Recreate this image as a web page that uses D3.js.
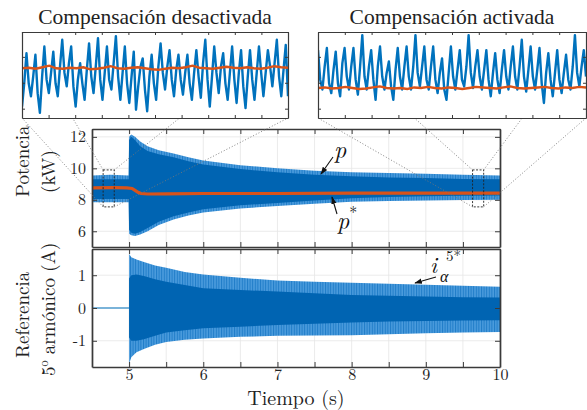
<!DOCTYPE html>
<html>
<head>
<meta charset="utf-8">
<script src="https://cdn.jsdelivr.net/npm/d3@7"></script>
<style>
  body { margin: 0; background: #fff; }
  svg { display: block; }
</style>
</head>
<body>
<script>
// compensacion de 5o armonico: potencia y referencia de corriente

// envolvente de la potencia p (kW)
const tTop     = [4.5, 4.75, 4.995, 5.0, 5.03, 5.08, 5.15, 5.25, 5.4, 5.6, 5.8, 6.0, 6.5, 7.0, 7.5, 8.0, 8.5, 9.0, 9.5, 10.0];
const pLightHi = [9.55, 9.6, 9.55, 12.0, 12.15, 12.0, 11.7, 11.4, 11.15, 10.95, 10.7, 10.5, 10.2, 10.0, 9.85, 9.75, 9.7, 9.65, 9.6, 9.55];
const pDarkHi  = [9.3, 9.3, 9.3, 11.8, 12.0, 11.8, 11.4, 11.1, 10.9, 10.7, 10.45, 10.25, 9.95, 9.75, 9.6, 9.5, 9.42, 9.38, 9.33, 9.3];
const pDarkLo  = [8.05, 8.05, 8.05, 6.1, 5.9, 5.85, 5.95, 6.2, 6.6, 6.95, 7.2, 7.4, 7.65, 7.8, 7.95, 8.1, 8.18, 8.22, 8.26, 8.28];
const pLightLo = [7.85, 7.85, 7.85, 5.85, 5.75, 5.7, 5.8, 6.0, 6.4, 6.75, 7.0, 7.2, 7.45, 7.6, 7.75, 7.88, 7.92, 7.95, 7.98, 8.0];

// potencia de referencia p* (kW)
const tRef = [4.5, 4.8, 4.97, 5.04, 5.08, 5.12, 5.16, 5.25, 5.5, 6, 7, 8, 9, 10];
const pRef = [8.76, 8.77, 8.76, 8.72, 8.6, 8.48, 8.4, 8.37, 8.38, 8.4, 8.4, 8.42, 8.42, 8.42];

// referencia de 5o armonico (A)
const tPre = [4.5, 5.0];
const iPre = [0, 0];
const tBot     = [5.0, 5.03, 5.1, 5.2, 5.35, 5.5, 5.75, 6.0, 6.5, 7.0, 7.5, 8.0, 8.5, 9.0, 9.5, 10.0];
const iLightHi = [1.65, 1.55, 1.48, 1.4, 1.3, 1.23, 1.1, 1.02, 0.92, 0.84, 0.8, 0.77, 0.74, 0.71, 0.68, 0.65];
const iDarkHi  = [0.9, 1.0, 1.02, 0.98, 0.88, 0.8, 0.7, 0.6, 0.55, 0.5, 0.45, 0.4, 0.37, 0.35, 0.33, 0.32];
const iDarkLo  = [-0.9, -1.0, -1.0, -0.95, -0.85, -0.75, -0.68, -0.62, -0.57, -0.52, -0.48, -0.44, -0.41, -0.4, -0.38, -0.37];
const iLightLo = [-1.7, -1.5, -1.35, -1.25, -1.12, -1.04, -0.97, -0.93, -0.88, -0.85, -0.84, -0.83, -0.8, -0.77, -0.75, -0.73];

// ventanas de zoom
const zoomLeftT  = [4.65, 4.80];
const zoomRightT = [9.63, 9.78];
const zoomP      = [7.55, 9.9];
const insetP     = [7.82, 9.48];

// detalle compensacion desactivada
const insetLeftP = [8.04, 8.49, 9.07, 8.49, 8.24, 8.62, 9.04, 8.30, 7.92, 8.62, 9.20, 8.56, 8.30, 8.69, 9.10, 8.49,
  8.24, 8.81, 9.33, 8.69, 8.43, 8.88, 9.20, 8.43, 8.04, 8.56, 8.88, 8.49, 8.17, 8.75, 9.26, 8.62, 8.30, 8.81, 9.36,
  8.56, 8.17, 8.69, 9.20, 8.56, 8.37, 8.88, 9.40, 8.62, 8.17, 8.69, 9.20, 8.49, 8.11, 8.62, 9.10, 7.98, 8.43, 8.81,
  8.97, 8.37, 7.95, 8.62, 9.04, 8.49, 8.17, 8.81, 9.26, 8.69, 8.37, 8.81, 9.13, 8.56, 8.24, 8.75, 9.04, 8.56, 8.27,
  8.69, 9.04, 8.49, 8.17, 8.69, 9.13, 8.62, 8.21, 8.88, 9.33, 8.56, 8.04, 8.62, 9.20, 8.69, 8.30, 8.81, 9.07, 8.49,
  8.17, 8.69, 9.20, 8.56, 8.11, 8.69, 9.13, 8.43, 8.01, 8.62, 9.13, 8.56, 8.17, 8.69, 9.20, 8.69, 8.24, 8.69, 9.13,
  8.81, 8.43, 8.88, 9.33, 8.62, 8.24, 8.75, 9.23, 8.24];
const insetLeftRef = [8.78, 8.79, 8.77, 8.80, 8.83, 8.78, 8.77, 8.79, 8.78, 8.80, 8.76, 8.77, 8.79, 8.82, 8.78, 8.77,
  8.79, 8.80, 8.78, 8.76, 8.75, 8.77, 8.79, 8.78, 8.80, 8.83, 8.79, 8.78, 8.77, 8.79, 8.81, 8.79, 8.78, 8.80, 8.78,
  8.77, 8.79, 8.82, 8.80, 8.79];

// detalle compensacion activada
const insetRightP = [9.13, 8.56, 8.37, 8.81, 9.17, 8.49, 8.30, 8.75, 9.10, 8.49, 8.24, 8.88, 9.17, 8.62, 8.37, 8.81,
  9.17, 8.56, 8.27, 8.81, 9.42, 8.62, 8.37, 8.81, 9.13, 8.56, 8.17, 8.81, 9.20, 8.62, 8.37, 8.69, 8.91, 8.43, 8.17,
  8.75, 9.17, 8.62, 8.37, 8.81, 9.20, 8.62, 8.37, 8.81, 9.42, 8.69, 8.43, 8.81, 9.20, 8.56, 8.37, 8.81, 9.20, 8.56,
  8.30, 8.69, 8.97, 8.37, 8.17, 8.69, 9.20, 8.62, 8.37, 8.75, 9.13, 8.56, 8.43, 8.81, 9.42, 8.69, 8.40, 8.81, 9.13,
  8.62, 8.37, 8.75, 9.13, 8.56, 8.24, 8.69, 9.07, 8.56, 8.30, 8.75, 9.13, 8.62, 8.37, 8.81, 9.20, 8.62, 8.37, 8.81,
  9.33, 8.62, 8.33, 8.75, 9.20, 8.62, 8.37, 8.75, 9.17, 8.49, 8.11, 8.69, 9.07, 8.56, 8.24, 8.69, 9.13, 8.56, 8.30,
  8.69, 9.04, 8.56, 8.37, 8.81, 9.42, 8.69, 8.43, 8.81, 9.13, 8.62];
const insetRightRef = [8.40, 8.41, 8.39, 8.40, 8.42, 8.40, 8.38, 8.39, 8.41, 8.43, 8.40, 8.39, 8.40, 8.38, 8.41, 8.40,
  8.42, 8.40, 8.39, 8.41, 8.40, 8.38, 8.40, 8.42, 8.41, 8.40, 8.39, 8.41, 8.43, 8.40, 8.39, 8.40, 8.41, 8.42, 8.40,
  8.39, 8.41, 8.40, 8.42, 8.41];

const xTicks = [4.5, 5, 5.5, 6, 6.5, 7, 7.5, 8, 8.5, 9, 9.5, 10];
const pTicks = [6, 8, 10, 12];
const iTicks = [-1, 0, 1];

const LM = 'Latin Modern Roman';
const TIMES = 'Liberation Serif';
const blue = '#0064b2';
const blueLight = '#4a9bdc';
const blueLine = '#0072BD';
const red = '#D95319';
const frame = '#3a3a3a';
const grid = '#e6e6e6';
const ink = '#222';

const svgWidth = 587, svgHeight = 410;
const svg = d3.select('body').append('svg')
  .attr('width', svgWidth)
  .attr('height', svgHeight);

// trama vertical para la zona de picos
const defs = svg.append('defs');
const pat = defs.append('pattern').attr('id', 'stripes')
  .attr('patternUnits', 'userSpaceOnUse').attr('width', 2.6).attr('height', 10);
pat.append('rect').attr('width', 2.6).attr('height', 10).attr('fill', blueLight);
pat.append('rect').attr('width', 1).attr('height', 10).attr('fill', '#1f7cc8');

const xScale = d3.scaleLinear().domain([4.5, 10]).range([92, 500]);
const yTop = d3.scaleLinear().domain([5, 12.5]).range([247, 129]);
const yBot = d3.scaleLinear().domain([-1.8, 1.8]).range([367, 249]);

const fmtNum = d => d < 0 ? '-' + Math.abs(d) : String(d);

function drawPanel(yScale, yTickVals, id) {
  const g = svg.append('g');
  const [y0, y1] = yScale.range();

  g.append('clipPath').attr('id', id)
    .append('rect')
    .attr('x', xScale.range()[0]).attr('y', y1)
    .attr('width', xScale.range()[1] - xScale.range()[0]).attr('height', y0 - y1);

  // rejilla
  g.append('g').selectAll('line').data(xTicks).join('line')
    .attr('x1', d => xScale(d)).attr('x2', d => xScale(d))
    .attr('y1', y1).attr('y2', y0)
    .attr('stroke', grid).attr('stroke-width', 0.8);
  g.append('g').selectAll('line').data(yTickVals).join('line')
    .attr('x1', xScale.range()[0]).attr('x2', xScale.range()[1])
    .attr('y1', d => yScale(d)).attr('y2', d => yScale(d))
    .attr('stroke', grid).attr('stroke-width', 0.8);

  const plot = g.append('g').attr('clip-path', `url(#${id})`);
  return { g, plot };
}

function drawAxes(g, yScale, yTickVals, showX) {
  const [y0, y1] = yScale.range();
  const [x0, x1] = xScale.range();
  const style = sel => {
    sel.attr('font-family', LM);
    sel.select('.domain').attr('stroke', frame).attr('stroke-width', 1.7);
    sel.selectAll('.tick line').attr('stroke', frame).attr('stroke-width', 1);
    sel.selectAll('.tick text').attr('fill', ink).attr('font-size', 16).attr('font-family', LM);
  };
  g.append('g').attr('transform', `translate(0,${y0})`)
    .call(d3.axisBottom(xScale).tickValues(xTicks).tickSizeInner(-5).tickSizeOuter(0).tickPadding(2)
      .tickFormat(d => showX && Number.isInteger(d) && d >= 5 ? fmtNum(d) : ''))
    .call(style);
  g.append('g').attr('transform', `translate(0,${y1})`)
    .call(d3.axisTop(xScale).tickValues(xTicks).tickSizeInner(-5).tickSizeOuter(0).tickFormat(''))
    .call(style);
  g.append('g').attr('transform', `translate(${x0},0)`)
    .call(d3.axisLeft(yScale).tickValues(yTickVals).tickSizeInner(-5).tickSizeOuter(0).tickPadding(6).tickFormat(fmtNum))
    .call(style);
  g.append('g').attr('transform', `translate(${x1},0)`)
    .call(d3.axisRight(yScale).tickValues(yTickVals).tickSizeInner(-5).tickSizeOuter(0).tickFormat(''))
    .call(style);
}

// ---- panel superior: potencia
const topPanel = drawPanel(yTop, pTicks, 'clipTop');
const topIdx = d3.range(tTop.length);
topPanel.plot.append('path')
  .datum(topIdx)
  .attr('fill', 'url(#stripes)')
  .attr('d', d3.area().x(i => xScale(tTop[i])).y0(i => yTop(pLightLo[i])).y1(i => yTop(pLightHi[i])));
topPanel.plot.append('path')
  .datum(topIdx)
  .attr('fill', blue)
  .attr('d', d3.area().x(i => xScale(tTop[i])).y0(i => yTop(pDarkLo[i])).y1(i => yTop(pDarkHi[i])));
topPanel.plot.append('path')
  .datum(d3.range(tRef.length))
  .attr('fill', 'none').attr('stroke', red).attr('stroke-width', 3.2)
  .attr('d', d3.line().x(i => xScale(tRef[i])).y(i => yTop(pRef[i])));
drawAxes(topPanel.g, yTop, pTicks, false);

// ---- panel inferior: referencia de corriente
const botPanel = drawPanel(yBot, iTicks, 'clipBot');
botPanel.plot.append('path')
  .datum(d3.range(tPre.length))
  .attr('fill', 'none').attr('stroke', blueLine).attr('stroke-width', 1.2)
  .attr('d', d3.line().x(i => xScale(tPre[i])).y(i => yBot(iPre[i])));
const botIdx = d3.range(tBot.length);
botPanel.plot.append('path')
  .datum(botIdx)
  .attr('fill', 'url(#stripes)')
  .attr('d', d3.area().x(i => xScale(tBot[i])).y0(i => yBot(iLightLo[i])).y1(i => yBot(iLightHi[i])));
botPanel.plot.append('path')
  .datum(botIdx)
  .attr('fill', blue)
  .attr('d', d3.area().x(i => xScale(tBot[i])).y0(i => yBot(iDarkLo[i])).y1(i => yBot(iDarkHi[i])));
drawAxes(botPanel.g, yBot, iTicks, true);

// ---- textos de ejes
svg.append('text')
  .attr('x', 296).attr('y', 405)
  .attr('text-anchor', 'middle').attr('font-size', 20).attr('font-family', LM).attr('fill', ink)
  .text('Tiempo (s)');

function yLabel(x, y, txt) {
  return svg.append('text')
    .attr('transform', `translate(${x},${y}) rotate(-90)`)
    .attr('font-size', 19).attr('font-family', LM).attr('fill', ink)
    .text(txt);
}
yLabel(29, 197, 'Potencia');
yLabel(55, 193, '(kW)');
yLabel(29, 358, 'Referencia');
const lab5 = yLabel(55, 376, '5');
lab5.append('tspan').attr('dy', -7).attr('font-size', 12).text('o');
lab5.append('tspan').attr('dy', 7).text(' armónico (A)');

// ---- anotaciones
defs.append('marker')
  .attr('id', 'arrow').attr('viewBox', '0 0 10 10')
  .attr('refX', 9).attr('refY', 5)
  .attr('markerWidth', 7).attr('markerHeight', 7)
  .attr('orient', 'auto')
  .append('path').attr('d', 'M0,1.5 L10,5 L0,8.5 Z').attr('fill', '#111');

function arrow(x1, y1, x2, y2) {
  svg.append('line')
    .attr('x1', x1).attr('y1', y1).attr('x2', x2).attr('y2', y2)
    .attr('stroke', '#111').attr('stroke-width', 1.1)
    .attr('marker-end', 'url(#arrow)');
}

function note(x, y, size) {
  return svg.append('text').attr('x', x).attr('y', y)
    .attr('font-size', size).attr('font-family', LM).attr('fill', '#111');
}

arrow(333, 157, 321, 174);
note(334, 158, 24).append('tspan').attr('font-style', 'italic').text('p');

arrow(337, 214, 332, 197);
const pStar = note(337, 229, 24);
pStar.append('tspan').attr('font-style', 'italic').text('p');
pStar.append('tspan').attr('dy', -11).attr('font-size', 16).text('*');

arrow(436, 277, 415, 283);
note(430, 273, 23).append('tspan').attr('font-style', 'italic').text('i');
note(440, 282, 16).append('tspan').attr('font-style', 'italic').text('α');
note(446, 261, 15).text('5*');

// ---- recuadros de zoom y lineas de union
const insets = [
  { box: [22, 288, 32, 118], t: zoomLeftT, p: insetLeftP, ref: insetLeftRef, title: 'Compensación desactivada' },
  { box: [318, 586, 32, 118], t: zoomRightT, p: insetRightP, ref: insetRightRef, title: 'Compensación activada' }
];

insets.forEach(ins => {
  const rx0 = xScale(ins.t[0]), rx1 = xScale(ins.t[1]);
  const ry0 = yTop(zoomP[1]), ry1 = yTop(zoomP[0]);
  const [bx0, bx1, by0, by1] = ins.box;
  const links = [[rx0, ry0, bx0, by0], [rx0, ry1, bx0, by1], [rx1, ry0, bx1, by0], [rx1, ry1, bx1, by1]];
  svg.append('g').selectAll('line').data(links).join('line')
    .attr('x1', d => d[0]).attr('y1', d => d[1]).attr('x2', d => d[2]).attr('y2', d => d[3])
    .attr('stroke', '#777').attr('stroke-width', 0.9).attr('stroke-dasharray', '1,2');
  svg.append('rect')
    .attr('x', rx0).attr('y', ry0).attr('width', rx1 - rx0).attr('height', ry1 - ry0)
    .attr('fill', 'none').attr('stroke', '#222').attr('stroke-width', 0.9).attr('stroke-dasharray', '2,1.5');
});

insets.forEach((ins, k) => {
  const [bx0, bx1, by0, by1] = ins.box;
  const g = svg.append('g');
  const xs = d3.scaleLinear().domain(ins.t).range([bx0, bx1]);
  const ys = d3.scaleLinear().domain(insetP).range([by1, by0]);
  const tOf = n => d3.scaleLinear().domain([0, n - 1]).range(ins.t);

  g.append('rect').attr('x', bx0).attr('y', by0).attr('width', bx1 - bx0).attr('height', by1 - by0)
    .attr('fill', '#fff');
  g.append('clipPath').attr('id', 'clipIn' + k)
    .append('rect').attr('x', bx0).attr('y', by0).attr('width', bx1 - bx0).attr('height', by1 - by0);
  const plot = g.append('g').attr('clip-path', `url(#clipIn${k})`);

  const tp = tOf(ins.p.length);
  plot.append('path').datum(ins.p)
    .attr('fill', 'none').attr('stroke', blueLine).attr('stroke-width', 2.4).attr('stroke-linejoin', 'round')
    .attr('d', d3.line().x((d, i) => xs(tp(i))).y(d => ys(d)));
  const tr = tOf(ins.ref.length);
  plot.append('path').datum(ins.ref)
    .attr('fill', 'none').attr('stroke', red).attr('stroke-width', 2.4)
    .attr('d', d3.line().x((d, i) => xs(tr(i))).y(d => ys(d)));

  const tickT = d3.range(11).map(i => ins.t[0] + i * (ins.t[1] - ins.t[0]) / 10);
  const tickStyle = sel => {
    sel.select('.domain').attr('stroke', frame).attr('stroke-width', 1.2);
    sel.selectAll('.tick line').attr('stroke', frame);
  };
  g.append('g').attr('transform', `translate(0,${by1})`)
    .call(d3.axisBottom(xs).tickValues(tickT).tickSizeInner(-3).tickSizeOuter(0).tickFormat('')).call(tickStyle);
  g.append('g').attr('transform', `translate(0,${by0})`)
    .call(d3.axisTop(xs).tickValues(tickT).tickSizeInner(-3).tickSizeOuter(0).tickFormat('')).call(tickStyle);
  g.append('g').attr('transform', `translate(${bx0},0)`)
    .call(d3.axisLeft(ys).tickValues([8, 8.5, 9]).tickSizeInner(-3).tickSizeOuter(0).tickFormat('')).call(tickStyle);
  g.append('g').attr('transform', `translate(${bx1},0)`)
    .call(d3.axisRight(ys).tickValues([8, 8.5, 9]).tickSizeInner(-3).tickSizeOuter(0).tickFormat('')).call(tickStyle);

  svg.append('text')
    .attr('x', (bx0 + bx1) / 2).attr('y', 24)
    .attr('text-anchor', 'middle').attr('font-size', 21.5).attr('font-family', TIMES).attr('fill', ink)
    .text(ins.title);
});
</script>
</body>
</html>
